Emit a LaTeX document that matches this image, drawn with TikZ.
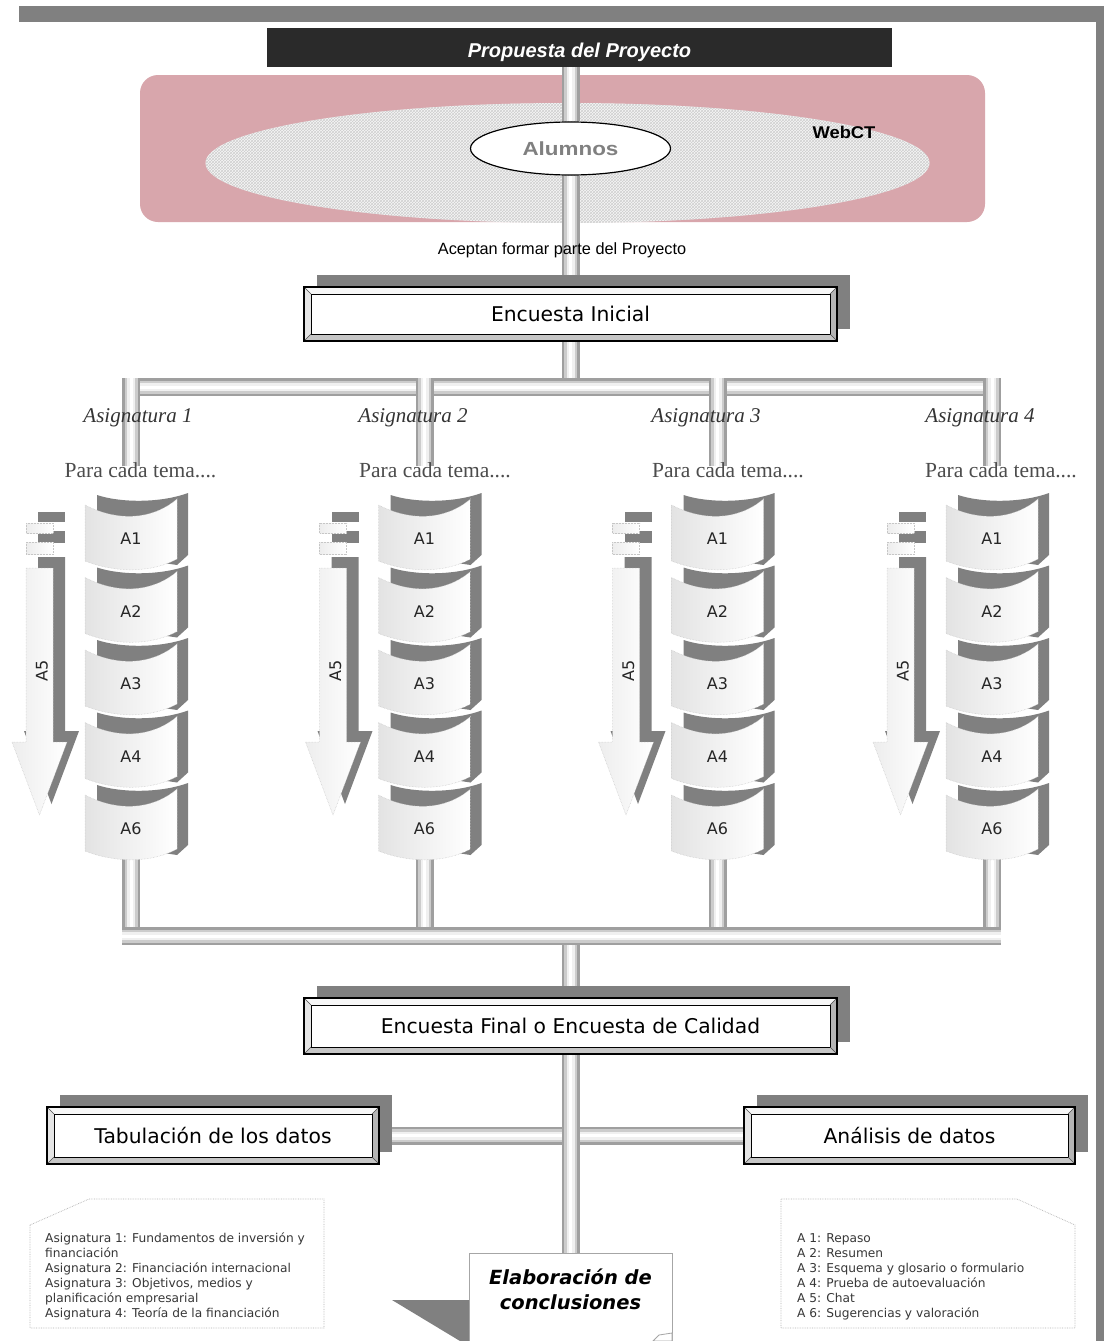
\documentclass[tikz,border=0pt]{standalone}
\usepackage{fontspec}
\setmainfont{DejaVu Sans}
\newfontfamily\arialf{Liberation Sans}
\newfontfamily\seriff{Liberation Serif}
\usetikzlibrary{shapes.geometric,shadows,patterns,calc}
\pgfdeclarelayer{back}
\pgfdeclarelayer{pipes}
\pgfsetlayers{back,pipes,main}
\definecolor{shadowgray}{RGB}{128,128,128}
\definecolor{pinkc}{RGB}{216,166,172}
\definecolor{propblk}{RGB}{42,42,42}
\definecolor{txtgray}{RGB}{55,55,55}
\begin{document}
\begin{tikzpicture}[x=1pt,y=-1pt,
  pipe/.style={draw=gray!75, line width=18pt,
    postaction={draw=gray!40, line width=13pt},
    postaction={draw=gray!12, line width=8pt},
    postaction={draw=white, line width=3pt}},
  bshadow/.style={general shadow={fill=shadowgray, shadow xshift=13pt, shadow yshift=12pt}},
  bevel/.style={draw=black, line width=1.3pt, fill=white, inner sep=0pt,
    font=\fontsize{20.3}{24}\selectfont,
    path picture={
      \coordinate (bNW) at (path picture bounding box.north west);
      \coordinate (bNE) at (path picture bounding box.north east);
      \coordinate (bSW) at (path picture bounding box.south west);
      \coordinate (bSE) at (path picture bounding box.south east);
      \coordinate (iNW) at ([xshift=7pt,yshift=-7pt]bNW);
      \coordinate (iNE) at ([xshift=-7pt,yshift=-7pt]bNE);
      \coordinate (iSW) at ([xshift=7pt,yshift=7pt]bSW);
      \coordinate (iSE) at ([xshift=-7pt,yshift=7pt]bSE);
      \fill[gray!6] (bNW) -- (bNE) -- (iNE) -- (iNW) -- cycle;
      \fill[gray!20] (bNW) -- (iNW) -- (iSW) -- (bSW) -- cycle;
      \fill[gray!45] (bSW) -- (iSW) -- (iSE) -- (bSE) -- cycle;
      \fill[gray!58] (bNE) -- (bSE) -- (iSE) -- (iNE) -- cycle;
      \draw[black, line width=0.9pt] (iNW) rectangle (iSE);
      \draw[black!70, line width=0.5pt] (bNW) -- (iNW) (bNE) -- (iNE) (bSW) -- (iSW) (bSE) -- (iSE);
    }},
  facestyle/.style={draw=gray!45, densely dotted, line width=0.5pt, left color=gray!22, right color=white},
  lightarrow/.style={draw=gray!45, densely dotted, line width=0.5pt, left color=gray!14, right color=white},
  alab/.style={font=\fontsize{16}{18}\selectfont, text=black!85, inner sep=0pt},
  asig/.style={font=\seriff\itshape\fontsize{21}{24}\selectfont, text=black!80, anchor=base, inner sep=0pt},
  para/.style={font=\seriff\fontsize{21.5}{24}\selectfont, text=black!70, anchor=base, inner sep=0pt},
  notetext/.style={font=\fontsize{12.2}{15}\selectfont, text=txtgray, align=left, inner sep=0pt, anchor=north west},
  notebox/.style={draw=gray!60, densely dotted, line width=0.7pt}
]
\useasboundingbox (0,0) rectangle (1104,1341);

\begin{pgfonlayer}{back}
  \fill[white] (0,0) rectangle (1104,1341);
  % frame bands
  \fill[shadowgray] (19,6) rectangle (1104,22);
  \fill[shadowgray] (1096,6) rectangle (1104,1341);
  % WebCT area
  \fill[pinkc, rounded corners=18pt] (140,75) rectangle (985,222);
  \fill[gray!6] (567.5,163) ellipse [x radius=362, y radius=60];
  \fill[pattern=crosshatch, pattern color=gray!38] (567.5,163) ellipse [x radius=362, y radius=60];
\end{pgfonlayer}

% top box
\node[fill=propblk, minimum width=625pt, minimum height=39pt, inner sep=0pt,
      text height=19pt, text depth=0pt,
      text=white, font=\arialf\bfseries\itshape\fontsize{20}{22}\selectfont]
  (prop) at (579.5,47.5) {Propuesta del Proyecto};

\node[ellipse, draw=black, line width=1.2pt, fill=white, minimum width=200pt, minimum height=53pt, inner sep=0pt,
      text=gray, font=\arialf\bfseries\fontsize{19}{20}\selectfont]
  (al) at (570.5,148.5) {\scalebox{1.18}[1]{Alumnos}};

\node[font=\arialf\bfseries\fontsize{17}{18}\selectfont, inner sep=0pt] (webct) at (844,132) {\scalebox{1.08}[1]{WebCT}};

\node[font=\arialf\fontsize{16.3}{18}\selectfont, inner sep=0pt] (acep) at (562,250) {Aceptan formar parte del Proyecto};

\node[bevel, bshadow, minimum width=533pt, minimum height=54pt] (ei) at (570.5,314) {Encuesta Inicial};

% columns
\foreach \c/\cx/\ax/\px in {1/131/138/140.5, 2/424.5/413/435, 3/717.5/706/728, 4/992/980/1001} {
  \coordinate (top\c) at (\cx,378);
  \coordinate (dr\c) at (\cx,466);
  \coordinate (bot\c) at (\cx,858);
  \coordinate (low\c) at (\cx,936);
  \begin{scope}[shift={(\cx,0)}]
    % A5 arrow shadow
    \begin{scope}[shift={(12,-11)}]
      \fill[shadowgray] (-105,523) rectangle (-78,533);
      \fill[shadowgray] (-105,542) rectangle (-78,554);
      \fill[shadowgray] (-105,568) -- (-78,568) -- (-78,742) -- (-64,742) -- (-91.5,815) -- (-119,742) -- (-105,742) -- cycle;
    \end{scope}
    % A5 arrow
    \draw[lightarrow] (-105,523) rectangle (-78,533);
    \draw[lightarrow] (-105,542) rectangle (-78,554);
    \draw[lightarrow] (-105,568) -- (-78,568) -- (-78,742) -- (-64,742) -- (-91.5,815) -- (-119,742) -- (-105,742) -- cycle;
    \node[alab, rotate=90] (c\c A5) at (-89,671) {A5};
    % stacked segments
    \foreach \k/\lab in {0/A1,1/A2,2/A3,3/A4,4/A6} {
      \pgfmathsetmacro\yo{493+72.5*\k}
      \fill[shadowgray] (-34,\yo+2) .. controls (-10,\yo+10) and (30,\yo+10) .. (57,\yo) -- (57,\yo+62) -- (46,\yo+72) -- (-34,\yo+60) -- cycle;
      \draw[facestyle] (-46,\yo+12) .. controls (-15,\yo+28) and (20,\yo+28) .. (46,\yo+6) -- (46,\yo+66) .. controls (20,\yo+80) and (-15,\yo+80) .. (-46,\yo+68) -- cycle;
      \node[alab] (c\c\lab) at (0,\yo+46) {\lab};
    }
  \end{scope}
  \node[asig] (asig\c) at (\ax,422) {Asignatura \c};
  \node[para] (para\c) at (\px,477) {Para cada tema....};
}

\coordinate (hl) at (122,387);
\coordinate (hr) at (1001,387);
\coordinate (ll) at (122,936);
\coordinate (lr) at (1001,936);

\node[bevel, bshadow, minimum width=533pt, minimum height=56pt] (ef) at (570.5,1026) {Encuesta Final o Encuesta de Calidad};
\node[bevel, bshadow, minimum width=332pt, minimum height=57pt] (tab) at (213,1135.5) {Tabulación de los datos};
\node[bevel, bshadow, minimum width=331pt, minimum height=57pt] (ana) at (909.5,1135.5) {Análisis de datos};

% notes
\draw[notebox] (30,1225) -- (89,1199) -- (324,1199) -- (324,1328) -- (30,1328) -- cycle;
\node[notetext] (note1) at (45,1233) {Asignatura 1: Fundamentos de inversión y\\financiación\\Asignatura 2: Financiación internacional\\Asignatura 3: Objetivos, medios y\\planificación empresarial\\Asignatura 4: Teoría de la financiación};
\draw[notebox] (781,1199) -- (1017,1199) -- (1075,1225) -- (1075,1328) -- (781,1328) -- cycle;
\node[notetext] (note2) at (797,1233) {A 1: Repaso\\A 2: Resumen\\A 3: Esquema y glosario o formulario\\A 4: Prueba de autoevaluación\\A 5: Chat\\A 6: Sugerencias y valoración};

% conclusions callout
\fill[shadowgray] (392,1300) -- (469,1300) -- (469,1341) -- (460,1341) -- cycle;
\node[draw=gray!70, line width=0.8pt, fill=white, minimum width=203pt, minimum height=94pt, anchor=north, inner sep=0pt] (elab) at (570.5,1253) {};
\node[font=\bfseries\itshape\fontsize{19.5}{25}\selectfont, align=center, inner sep=0pt] (elabtxt) at (570.5,1289) {Elaboración de\\conclusiones};
\draw[gray!70, line width=0.8pt, fill=white] (653,1341) -- (659,1335) -- (672,1333) -- (672,1341) -- cycle;

% pipes
\begin{pgfonlayer}{pipes}
  \draw[pipe] (prop.south -| al.north) -- (al.north);
  \draw[pipe] (al.south) -- (al.south |- ei.north);
  \draw[pipe] (ei.south) -- (ei.south |- hl);
  \draw[pipe] (hl) -- (hr);
  \foreach \c in {1,2,3,4} {
    \draw[pipe] (top\c) -- (dr\c);
    \draw[pipe] (bot\c) -- (low\c);
  }
  \draw[pipe] (ef.north |- ll) -- (ef.north);
  \draw[pipe] (ll) -- (lr);
  \draw[pipe] (tab.east) -- (ana.west);
  \draw[pipe] (ef.south) -- (elab.north);
\end{pgfonlayer}
\end{tikzpicture}
\end{document}
